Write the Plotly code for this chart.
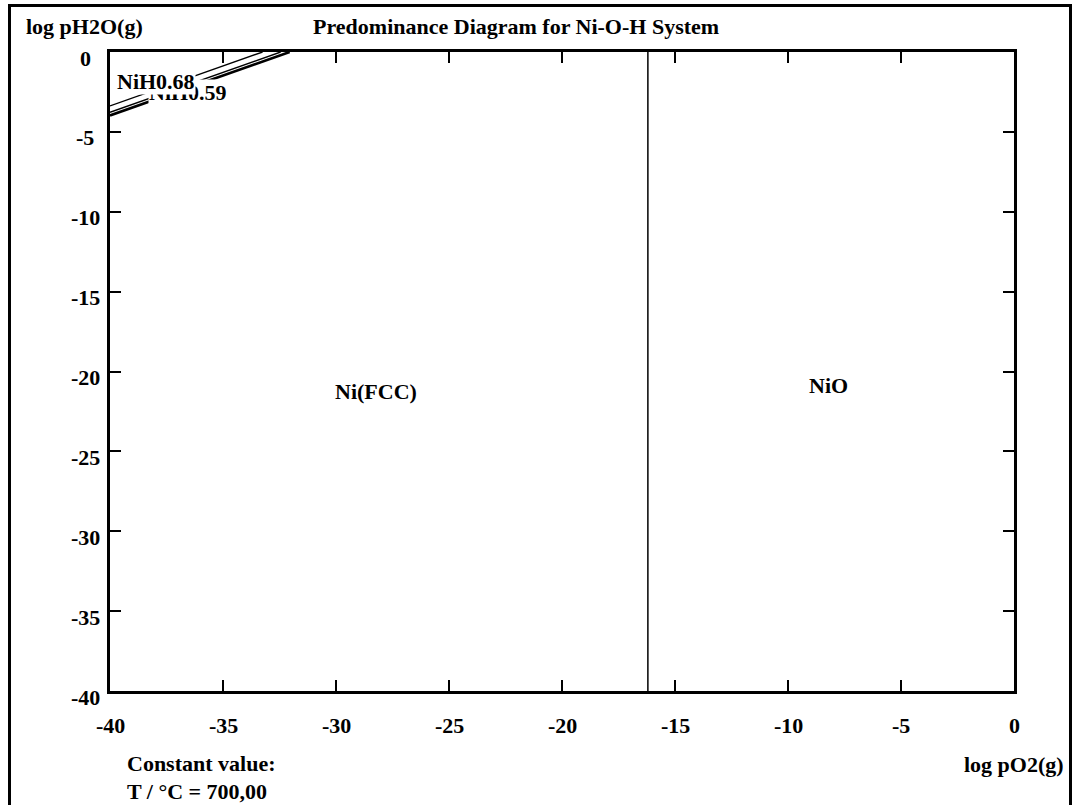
import plotly.graph_objects as go

# ---------------- data ----------------
x_ticks = [-40, -35, -30, -25, -20, -15, -10, -5, 0]
x_tick_labels = ["-40", "-35", "-30", "-25", "-20", "-15", "-10", "-5", "0"]
y_ticks = [0, -5, -10, -15, -20, -25, -30, -35, -40]
y_tick_labels = ["0", "-5", "-10", "-15", "-20", "-25", "-30", "-35", "-40"]

# phase boundaries (log pO2, log pH2O)
b_nih068_x = [-40, -33.25]
b_nih068_y = [-3.375, 0]
b_nih059_up_x = [-40, -32.45]
b_nih059_up_y = [-3.775, 0]
b_nih059_lo_x = [-40, -32.05]
b_nih059_lo_y = [-3.975, 0]
b_ni_nio_x = [-16.2, -16.2]
b_ni_nio_y = [-40, 0]

region_names = ["NiH0.59", "NiH0.68", "Ni(FCC)", "NiO"]
region_x = [-36.55, -37.96, -28.23, -8.23]
region_y = [-2.56, -1.875, -21.25, -20.9]

title_text = "Predominance Diagram for Ni-O-H System"
y_title = "log pH2O(g)"
x_title = "log pO2(g)"
const_lines = ["Constant value:", "T / °C = 700,00"]

# ---------------- layout geometry ----------------
W, H = 1078, 805
L, R, T, B = 110, 1014, 52, 691
FONT = dict(family="Liberation Serif, Times New Roman, serif", size=22, color="black", weight="bold")


def px_x(p):
    return (p - L) / (R - L)


def px_y(p):
    return (B - p) / (B - T)


fig = go.Figure()

line_specs = [
    (b_nih068_x, b_nih068_y, 1.4),
    (b_nih059_up_x, b_nih059_up_y, 1.4),
    (b_nih059_lo_x, b_nih059_lo_y, 2.6),
    (b_ni_nio_x, b_ni_nio_y, 1.5),
]
for xs, ys, w in line_specs:
    fig.add_trace(go.Scatter(x=xs, y=ys, mode="lines",
                             line=dict(color="black", width=w),
                             hoverinfo="skip", showlegend=False))

annotations = []
# region labels
for name, rx, ry in zip(region_names, region_x, region_y):
    annotations.append(dict(x=rx, y=ry, xref="x", yref="y", text=name,
                            showarrow=False, font=FONT, bgcolor="white",
                            borderpad=0, xanchor="center", yanchor="middle"))
# tick labels
for v, t in zip(x_ticks, x_tick_labels):
    annotations.append(dict(x=v, y=px_y(725), xref="x", yref="paper", text=t,
                            showarrow=False, font=FONT, xanchor="center", yanchor="middle"))
for v, t in zip(y_ticks, y_tick_labels):
    annotations.append(dict(x=px_x(85), y=v, xref="paper", yref="y", text=t,
                            showarrow=False, font=FONT, xanchor="center", yanchor="middle",
                            yshift=-6))
# titles
annotations.append(dict(x=px_x(516), y=px_y(26), xref="paper", yref="paper", text=title_text,
                        showarrow=False, font=FONT, xanchor="center", yanchor="middle"))
annotations.append(dict(x=px_x(24), y=px_y(26), xref="paper", yref="paper", text=y_title,
                        showarrow=False, font=FONT, xanchor="left", yanchor="middle"))
annotations.append(dict(x=px_x(1014), y=px_y(764), xref="paper", yref="paper", text=x_title,
                        showarrow=False, font=FONT, xanchor="center", yanchor="middle"))
for i, s in enumerate(const_lines):
    annotations.append(dict(x=px_x(125), y=px_y(763 + 28 * i), xref="paper", yref="paper", text=s,
                            showarrow=False, font=FONT, xanchor="left", yanchor="middle"))

axis_common = dict(showgrid=False, zeroline=False, showline=True, linecolor="black",
                   linewidth=3, mirror="ticks", ticks="inside", ticklen=11,
                   tickwidth=1.5, tickcolor="black", showticklabels=False, fixedrange=True)

fig.update_layout(
    width=W, height=H,
    margin=dict(l=L, r=W - R, t=T, b=H - B, pad=0),
    paper_bgcolor="white", plot_bgcolor="white",
    xaxis=dict(range=[-40, 0], tickvals=x_ticks, **axis_common),
    yaxis=dict(range=[-40, 0], tickvals=y_ticks, **axis_common),
    annotations=annotations,
    shapes=[dict(type="rect", xref="paper", yref="paper",
                 x0=px_x(9.5), x1=px_x(1070.5), y0=px_y(840), y1=px_y(5.5),
                 line=dict(color="black", width=3), fillcolor="rgba(0,0,0,0)", layer="below")],
    showlegend=False,
)

fig.write_html("out.html", config={"displayModeBar": False},
               post_script="document.body.style.margin='0';document.body.style.overflow='hidden';")
